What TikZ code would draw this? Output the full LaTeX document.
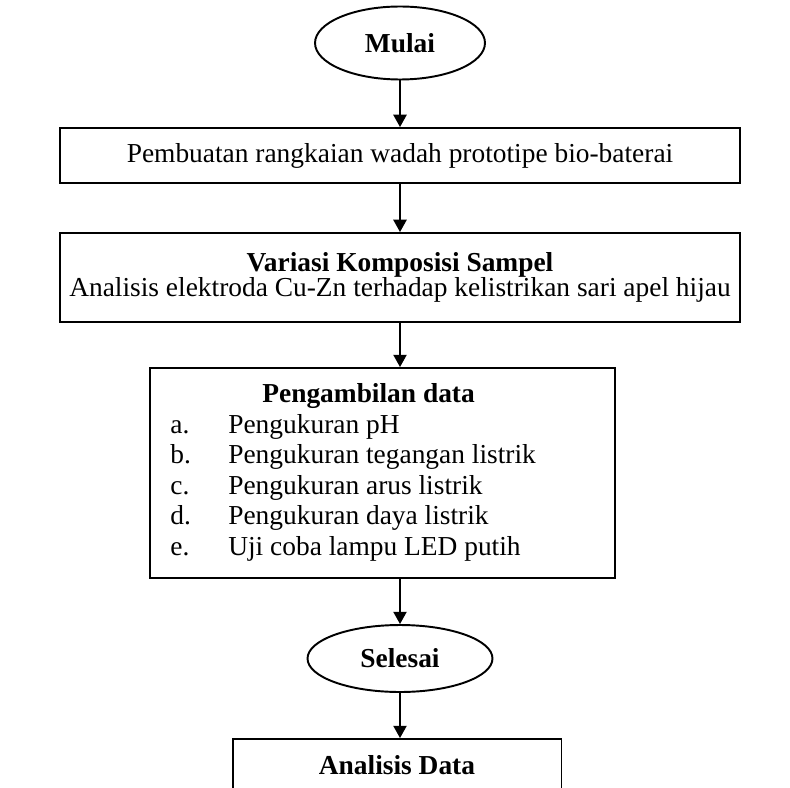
\documentclass[tikz,border=0pt]{standalone}
\usepackage{fontspec}
\setmainfont{Liberation Serif}
\usetikzlibrary{shapes.geometric,arrows.meta}

\begin{document}
\begin{tikzpicture}[x=0.02cm,y=-0.02cm,font=\fontsize{15.6}{18}\selectfont]
        \tikzstyle{every node}=[inner sep=0pt]
        \tikzstyle{terminal}=[draw,ellipse,line width=1.1pt,minimum width=3.4cm,minimum height=1.46cm,font=\fontsize{15.6}{18}\selectfont\bfseries]
        \tikzstyle{proses}=[draw,rectangle,line width=1.1pt,align=center]
        \tikzstyle{butir}=[anchor=base west]
        \tikzstyle{panah}=[line width=1.1pt,-{Triangle[width=7.5pt,length=7pt]}]
        \useasboundingbox (0,0) rectangle (790,787);
        \clip (0,0) rectangle (790,787);
        % alur
        \node[terminal] (mulai) at (400,43) {Mulai};
        \node[proses,minimum width=13.6cm,minimum height=1.1cm] (buat) at (400,155.5) {Pembuatan rangkaian wadah prototipe bio-baterai};
        \node[proses,minimum width=13.6cm,minimum height=1.78cm,font=\fontsize{15.6}{14.2}\selectfont] (variasi) at (400,277.5) {\textbf{Variasi Komposisi Sampel}\\Analisis elektroda Cu-Zn terhadap kelistrikan sari apel hijau};
        \node[proses,minimum width=9.3cm,minimum height=4.2cm] (ambil) at (382.5,473) {};
        \node[font=\fontsize{15.6}{18}\selectfont\bfseries,anchor=base west] (judul) at (262,402) {Pengambilan data};
        \node[butir] (a) at (170,433) {\makebox[1.16cm][l]{a.}Pengukuran pH};
        \node[butir] (b) at (170,463.5) {\makebox[1.16cm][l]{b.}Pengukuran tegangan listrik};
        \node[butir] (c) at (170,494) {\makebox[1.16cm][l]{c.}Pengukuran arus listrik};
        \node[butir] (d) at (170,524.5) {\makebox[1.16cm][l]{d.}Pengukuran daya listrik};
        \node[butir] (e) at (170,555) {\makebox[1.16cm][l]{e.}Uji coba lampu LED putih};
        \node[terminal,minimum width=3.7cm,minimum height=1.34cm] (selesai) at (400,658.5) {Selesai};
        \node[proses,minimum width=6.58cm,minimum height=1.04cm,font=\fontsize{15.6}{18}\selectfont\bfseries] (analisis) at (397,765) {Analisis Data};
        \draw[panah] (mulai) -- (buat);
        \draw[panah] (buat) -- (variasi);
        \draw[panah] (variasi.south) -- (variasi.south |- ambil.north);
        \draw[panah] (selesai.north |- ambil.south) -- (selesai.north);
        \draw[panah] (selesai.south) -- (selesai.south |- analisis.north);
\end{tikzpicture}
\end{document}
